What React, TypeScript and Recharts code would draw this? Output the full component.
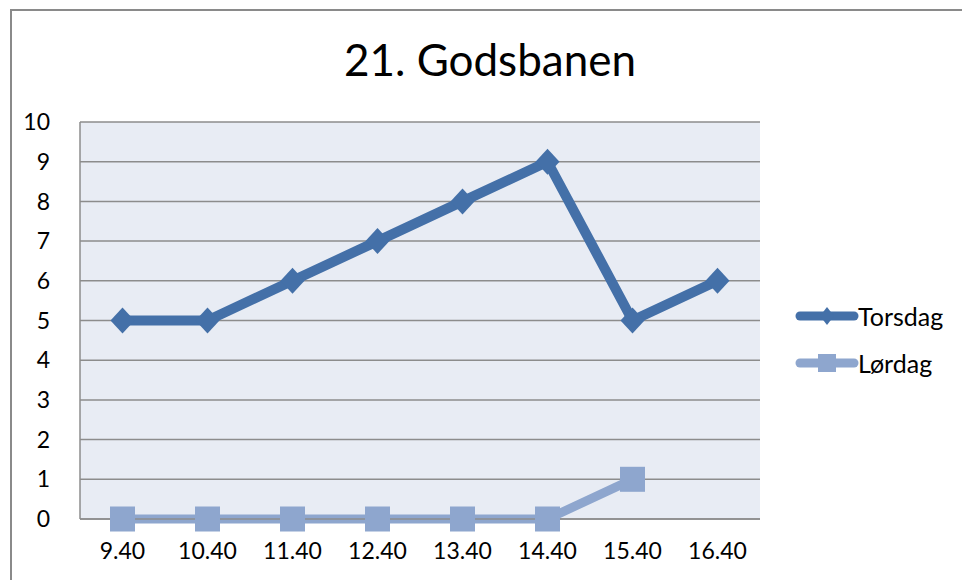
import React from "react";
import { LineChart, Line, XAxis, YAxis, CartesianGrid } from "recharts";

const categories = ["9.40", "10.40", "11.40", "12.40", "13.40", "14.40", "15.40", "16.40"];
const torsdag = [5, 5, 6, 7, 8, 9, 5, 6];
const lordag: (number | null)[] = [0, 0, 0, 0, 0, 0, 1, null];
const yTicks = [0, 1, 2, 3, 4, 5, 6, 7, 8, 9, 10];

const data = categories.map((c, i) => ({ t: c, Torsdag: torsdag[i], Lordag: lordag[i] }));

const C1 = "#4470A8";
const C2 = "#8EA6CE";
const FONT = "Lato, 'Open Sans', sans-serif";

const Diamond = (props: any) => {
  const { cx, cy } = props;
  if (cx == null || cy == null) return null;
  const rx = 12;
  const ry = 13;
  return <path d={`M${cx},${cy - ry} L${cx + rx},${cy} L${cx},${cy + ry} L${cx - rx},${cy} Z`} fill={C1} />;
};

const Square = (props: any) => {
  const { cx, cy, value } = props;
  if (cx == null || cy == null || value == null) return null;
  const s = 25;
  return <rect x={cx - s / 2} y={cy - s / 2} width={s} height={s} fill={C2} />;
};

export default function App() {
  return (
    <div style={{ position: "absolute", left: 0, top: 0, width: 962, height: 580, background: "#fff", overflow: "hidden", fontFamily: FONT }}>
      <div style={{ position: "absolute", left: 10, top: 9, width: 1000, height: 1000, border: "2px solid #8a8a8a" }} />
      <div style={{ position: "absolute", left: 80, width: 820, top: 33, textAlign: "center", fontSize: 44, color: "#000", lineHeight: "52px" }}>
        21. Godsbanen
      </div>
      <div style={{ position: "absolute", left: 0, top: 0 }}>
        <LineChart width={962} height={580} data={data} margin={{ top: 122, left: 20, right: 202, bottom: 31 }}>
          <CartesianGrid vertical={false} fill="#E8ECF4" stroke="#8c8c8c" strokeWidth={1.5} />
          <XAxis
            dataKey="t"
            height={30}
            padding={{ left: 42.5, right: 42.5 }}
            tickLine={false}
            axisLine={{ stroke: "#8c8c8c", strokeWidth: 1.5 }}
            tick={{ fill: "#000", fontSize: 23, fontFamily: FONT }}
            tickMargin={18}
            interval={0}
          />
          <YAxis
            width={60}
            domain={[0, 10]}
            ticks={yTicks}
            tickLine={false}
            axisLine={{ stroke: "#8c8c8c", strokeWidth: 1.5 }}
            tick={{ fill: "#000", fontSize: 23, fontFamily: FONT }}
            tickMargin={24}
            interval={0}
          />
          <YAxis
            yAxisId="r"
            orientation="right"
            width={0}
            domain={[0, 10]}
            tick={false}
            tickLine={false}
            axisLine={{ stroke: "#8c8c8c", strokeWidth: 1.5 }}
          />
          <Line dataKey="Torsdag" stroke={C1} strokeWidth={10} dot={<Diamond />} activeDot={false} isAnimationActive={false} />
          <Line dataKey="Lordag" stroke={C2} strokeWidth={9} dot={<Square />} activeDot={false} isAnimationActive={false} />
        </LineChart>
      </div>
      <div style={{ position: "absolute", left: 795, top: 301 }}>
        <svg width={64} height={30} style={{ position: "absolute", left: 0, top: 0 }}>
          <line x1={5} y1={15} x2={59} y2={15} stroke={C1} strokeWidth={9} strokeLinecap="round" />
          <path d="M32,6 L39,15 L32,24 L25,15 Z" fill={C1} />
        </svg>
        <div style={{ position: "absolute", left: 63, top: 0, fontSize: 25, lineHeight: "30px", whiteSpace: "nowrap" }}>Torsdag</div>
      </div>
      <div style={{ position: "absolute", left: 795, top: 348 }}>
        <svg width={64} height={30} style={{ position: "absolute", left: 0, top: 0 }}>
          <line x1={5} y1={15} x2={59} y2={15} stroke={C2} strokeWidth={9} strokeLinecap="round" />
          <rect x={23} y={6} width={18} height={18} fill={C2} />
        </svg>
        <div style={{ position: "absolute", left: 63, top: 0, fontSize: 25, lineHeight: "30px", whiteSpace: "nowrap" }}>Lørdag</div>
      </div>
    </div>
  );
}
